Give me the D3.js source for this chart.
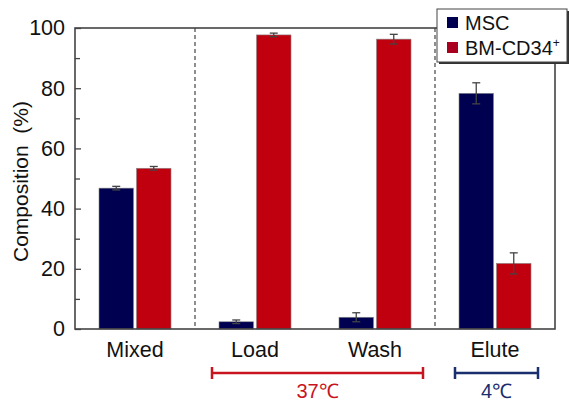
<!DOCTYPE html>
<html>
<head>
<meta charset="utf-8">
<script src="https://cdn.jsdelivr.net/npm/d3@7"></script>
<style>
  body { margin: 0; background: #fff; }
</style>
</head>
<body>
<script>
// data
const groups = ["Mixed", "Load", "Wash", "Elute"];
const series = ["MSC", "BM-CD34"];
const msc = [46.8, 2.4, 3.9, 78.3];
const mscErr = [0.6, 0.6, 1.5, 3.5];
const cd34 = [53.4, 97.7, 96.3, 21.8];
const cd34Err = [0.6, 0.6, 1.6, 3.5];
const yTicks = [0, 20, 40, 60, 80, 100];
const colors = ["#000050", "#c0000f"];

const FONT = "'Liberation Sans', Arial, Helvetica, sans-serif";
const width = 570, height = 403;
const margin = { top: 28, right: 15, bottom: 74, left: 75 };

const svg = d3.select("body").append("svg")
    .attr("width", width)
    .attr("height", height)
    .attr("font-family", FONT);

const x = d3.scaleBand()
    .domain(groups)
    .range([margin.left, width - margin.right])
    .padding(0);

const xInner = d3.scaleBand()
    .domain(series)
    .range([0, 72])
    .paddingInner(0.08);

const y = d3.scaleLinear()
    .domain([0, 100])
    .range([height - margin.bottom, margin.top]);

const plotL = margin.left, plotR = width - margin.right;
const plotT = margin.top, plotB = height - margin.bottom;

// bars
const rows = groups.map((g, i) => [
  { g, s: series[0], v: msc[i], e: mscErr[i], c: colors[0] },
  { g, s: series[1], v: cd34[i], e: cd34Err[i], c: colors[1] }
]).flat();

const gx = g => x(g) + (x.bandwidth() - 72) / 2;

svg.selectAll("rect.bar")
  .data(rows)
  .enter().append("rect")
    .attr("class", "bar")
    .attr("x", d => gx(d.g) + xInner(d.s))
    .attr("width", xInner.bandwidth())
    .attr("y", d => y(d.v))
    .attr("height", d => y(0) - y(d.v))
    .attr("fill", d => d.c)
    .attr("stroke", "#888")
    .attr("stroke-width", 0.6);

// error bars
const eb = svg.selectAll("g.err").data(rows).enter().append("g")
    .attr("class", "err")
    .attr("stroke", "#444")
    .attr("stroke-width", 1.3);
const cx = d => gx(d.g) + xInner(d.s) + xInner.bandwidth() / 2;
eb.append("line")
    .attr("x1", cx).attr("x2", cx)
    .attr("y1", d => y(d.v + d.e)).attr("y2", d => y(d.v - d.e));
eb.append("line")
    .attr("x1", d => cx(d) - 4).attr("x2", d => cx(d) + 4)
    .attr("y1", d => y(d.v + d.e)).attr("y2", d => y(d.v + d.e));
eb.append("line")
    .attr("x1", d => cx(d) - 4).attr("x2", d => cx(d) + 4)
    .attr("y1", d => y(d.v - d.e)).attr("y2", d => y(d.v - d.e));

// dashed separators
[groups[1], groups[3]].forEach(g => {
  svg.append("line")
    .attr("x1", x(g)).attr("x2", x(g))
    .attr("y1", plotT).attr("y2", plotB)
    .attr("stroke", "#444")
    .attr("stroke-width", 1.2)
    .attr("stroke-dasharray", "4,3");
});

// frame
svg.append("rect")
    .attr("x", plotL).attr("y", plotT)
    .attr("width", plotR - plotL).attr("height", plotB - plotT)
    .attr("fill", "none")
    .attr("stroke", "#444")
    .attr("stroke-width", 1.6);

// y axis (ticks inside)
const yAxis = d3.axisLeft(y)
    .tickValues(yTicks)
    .tickSizeInner(-6)
    .tickSizeOuter(0)
    .tickPadding(10);
const ya = svg.append("g")
    .attr("transform", `translate(${plotL},0)`)
    .call(yAxis);
ya.select(".domain").remove();
ya.selectAll(".tick line").attr("stroke", "#444").attr("stroke-width", 1.3);
ya.selectAll(".tick text")
    .attr("font-size", 21.5)
    .attr("fill", "#111")
    .attr("font-family", FONT);
ya.attr("font-family", FONT);

const minorAxis = d3.axisLeft(y)
    .tickValues([10, 30, 50, 70, 90])
    .tickSizeInner(-5)
    .tickSizeOuter(0)
    .tickFormat("");
const ym = svg.append("g")
    .attr("transform", `translate(${plotL},0)`)
    .call(minorAxis);
ym.select(".domain").remove();
ym.selectAll(".tick line").attr("stroke", "#444").attr("stroke-width", 1.3);

// y title
svg.append("text")
    .attr("transform", `translate(28,${(plotT + plotB) / 2 + 3}) rotate(-90)`)
    .attr("text-anchor", "middle")
    .attr("font-size", 21)
    .attr("fill", "#111")
    .attr("xml:space", "preserve")
    .style("white-space", "pre")
    .text("Composition  (%)");

// x labels
svg.selectAll("text.xl")
  .data(groups)
  .enter().append("text")
    .attr("class", "xl")
    .attr("x", d => x(d) + x.bandwidth() / 2)
    .attr("y", plotB + 28)
    .attr("text-anchor", "middle")
    .attr("font-size", 21.5)
    .attr("fill", "#111")
    .text(d => d);

// temperature brackets
const brackets = [
  { from: "Load", to: "Wash", label: "37\u2103", color: "#c8141e", pl: 7, pr: 12 },
  { from: "Elute", to: "Elute", label: "4\u2103", color: "#1a2f6e", pl: 4, pr: 7 }
];
const by = plotB + 44;
brackets.forEach(b => {
  const x1 = gx(b.from) - b.pl, x2 = gx(b.to) + 72 + b.pr;
  const g = svg.append("g").attr("stroke", b.color).attr("stroke-width", 2.5);
  g.append("line").attr("x1", x1).attr("x2", x2).attr("y1", by).attr("y2", by);
  g.append("line").attr("x1", x1).attr("x2", x1).attr("y1", by - 6).attr("y2", by + 6);
  g.append("line").attr("x1", x2).attr("x2", x2).attr("y1", by - 6).attr("y2", by + 6);
  svg.append("text")
    .attr("x", (x1 + x2) / 2)
    .attr("y", by + 25)
    .attr("text-anchor", "middle")
    .attr("font-size", 20)
    .attr("fill", b.color)
    .text(b.label);
});

// legend
const lg = svg.append("g").attr("transform", "translate(437,9)");
lg.append("rect").attr("x", 2).attr("y", 2).attr("width", 130).attr("height", 53).attr("fill", "#333");
lg.append("rect").attr("x", 0).attr("y", 0).attr("width", 130).attr("height", 53)
    .attr("fill", "#fff").attr("stroke", "#444").attr("stroke-width", 1);
const legendLabels = ["MSC", "BM-CD34"];
const legendSwatch = ["#000050", "#a8001e"];
legendLabels.forEach((l, i) => {
  lg.append("rect")
    .attr("x", 10).attr("y", 8 + i * 25)
    .attr("width", 11).attr("height", 11)
    .attr("fill", legendSwatch[i]);
  const t = lg.append("text")
    .attr("x", 28).attr("y", 21 + i * 25)
    .attr("font-size", 20)
    .attr("fill", "#111")
    .text(l);
  if (i === 1) {
    t.append("tspan").attr("dy", -8).attr("font-size", 12).text("+");
  }
});
</script>
</body>
</html>
